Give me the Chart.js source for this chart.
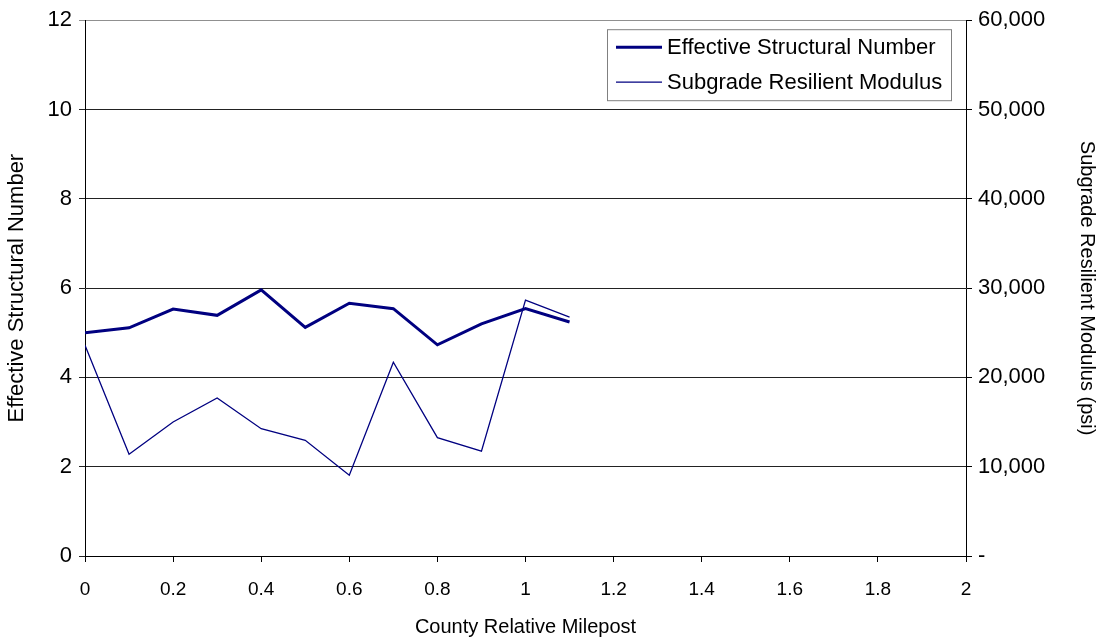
<!DOCTYPE html>
<html>
<head>
<meta charset="utf-8">
<script src="https://cdn.jsdelivr.net/npm/chart.js@4/dist/chart.umd.min.js"></script>
<style>
  html, body { margin: 0; padding: 0; background: #fff; }
  #wrap { width: 1105px; height: 642px; position: relative; }
</style>
</head>
<body>
<div id="wrap"><canvas id="c" width="1105" height="642"></canvas></div>
<script>
// County relative milepost for each survey point
const mileposts = [0, 0.1, 0.2, 0.3, 0.4, 0.5, 0.6, 0.7, 0.8, 0.9, 1.0, 1.1];
// Effective structural number (left axis)
const structuralNumber = [5.0, 5.11, 5.53, 5.39, 5.96, 5.12, 5.66, 5.54, 4.73, 5.2, 5.54, 5.24];
// Subgrade resilient modulus in psi (right axis)
const resilientModulus = [23600, 11400, 15000, 17700, 14250, 12950, 9050, 21700, 13250, 11750, 28650, 26750];
// Milepost tick positions
const milepostTicks = [0, 0.2, 0.4, 0.6, 0.8, 1, 1.2, 1.4, 1.6, 1.8, 2];

const seriesNames = ['Effective Structural Number', 'Subgrade Resilient Modulus'];
const navy = '#000080';
const FONT = 'Liberation Sans, Arial, sans-serif';

const toPoints = (ys) => mileposts.map((x, i) => ({ x, y: ys[i] }));

// Legend box drawn inside the plot area, upper right
const boxLegend = {
  id: 'boxLegend',
  afterDraw(chart) {
    const ctx = chart.ctx;
    const ca = chart.chartArea;
    const w = 344, h = 71;
    const x0 = ca.right - 15 - w, y0 = ca.top + 9;
    ctx.save();
    ctx.fillStyle = '#fff';
    ctx.fillRect(x0, y0, w, h);
    ctx.strokeStyle = '#808080';
    ctx.lineWidth = 1;
    ctx.strokeRect(x0 + 0.5, y0 + 0.5, w, h);
    ctx.font = '22px ' + FONT;
    ctx.textBaseline = 'middle';
    chart.data.datasets.forEach((ds, i) => {
      const yy = y0 + 18 + i * 35;
      ctx.strokeStyle = ds.borderColor;
      ctx.lineWidth = ds.borderWidth;
      ctx.beginPath();
      ctx.moveTo(x0 + 9, yy);
      ctx.lineTo(x0 + 55, yy);
      ctx.stroke();
      ctx.fillStyle = '#000';
      ctx.fillText(ds.label, x0 + 60, yy + 1);
    });
    ctx.restore();
  }
};

new Chart(document.getElementById('c'), {
  type: 'line',
  data: {
    datasets: [
      {
        label: seriesNames[0],
        data: toPoints(structuralNumber),
        yAxisID: 'y',
        borderColor: navy,
        backgroundColor: navy,
        borderWidth: 3,
        pointRadius: 0,
        tension: 0
      },
      {
        label: seriesNames[1],
        data: toPoints(resilientModulus),
        yAxisID: 'y1',
        borderColor: navy,
        backgroundColor: navy,
        borderWidth: 1.3,
        pointRadius: 0,
        tension: 0
      }
    ]
  },
  options: {
    responsive: false,
    animation: false,
    layout: { padding: { top: 19, left: 0, right: 0, bottom: 0 } },
    plugins: {
      legend: { display: false },
      tooltip: { enabled: false }
    },
    scales: {
      x: {
        type: 'linear',
        min: 0,
        max: 2,
        afterBuildTicks: (s) => {
          s.ticks = milepostTicks.map(v => ({ value: v }));
        },
        afterFit: (s) => { s.height = 86; },
        ticks: {
          font: { family: FONT, size: 19 },
          color: '#000',
          padding: 16,
          maxRotation: 0,
          callback: (v) => String(Math.round(v * 10) / 10)
        },
        grid: { drawOnChartArea: false, drawTicks: true, tickLength: 6, color: '#000' },
        border: { display: true, color: '#000', width: 1 },
        title: {
          display: true,
          text: 'County Relative Milepost',
          font: { family: FONT, size: 20 },
          color: '#000',
          padding: { top: 0, bottom: 3 }
        }
      },
      y: {
        position: 'left',
        min: 0,
        max: 12,
        ticks: {
          stepSize: 2,
          font: { family: FONT, size: 22 },
          color: '#000',
          padding: 7
        },
        afterFit: (s) => { s.width = 85; },
        grid: {
          drawTicks: true,
          tickLength: 6,
          color: (c) => (c.tick && c.tick.value === 12 ? '#909090' : '#222'),
          lineWidth: 1
        },
        border: { display: true, color: '#000', width: 1 },
        title: {
          display: true,
          text: 'Effective Structural Number',
          font: { family: FONT, size: 22 },
          color: '#000',
          padding: { top: 4, bottom: 0 }
        }
      },
      y1: {
        position: 'right',
        min: 0,
        max: 60000,
        ticks: {
          stepSize: 10000,
          font: { family: FONT, size: 22 },
          color: '#000',
          padding: 6,
          callback: (v) => (v === 0 ? '-' : v.toLocaleString('en-US'))
        },
        afterFit: (s) => { s.width = 139; },
        grid: { drawOnChartArea: false, drawTicks: true, tickLength: 6, color: '#000' },
        border: { display: true, color: '#000', width: 1 },
        title: {
          display: true,
          text: 'Subgrade Resilient Modulus (psi)',
          font: { family: FONT, size: 20 },
          color: '#000',
          padding: { top: 6, bottom: 0 }
        }
      }
    }
  },
  plugins: [boxLegend]
});
</script>
</body>
</html>
